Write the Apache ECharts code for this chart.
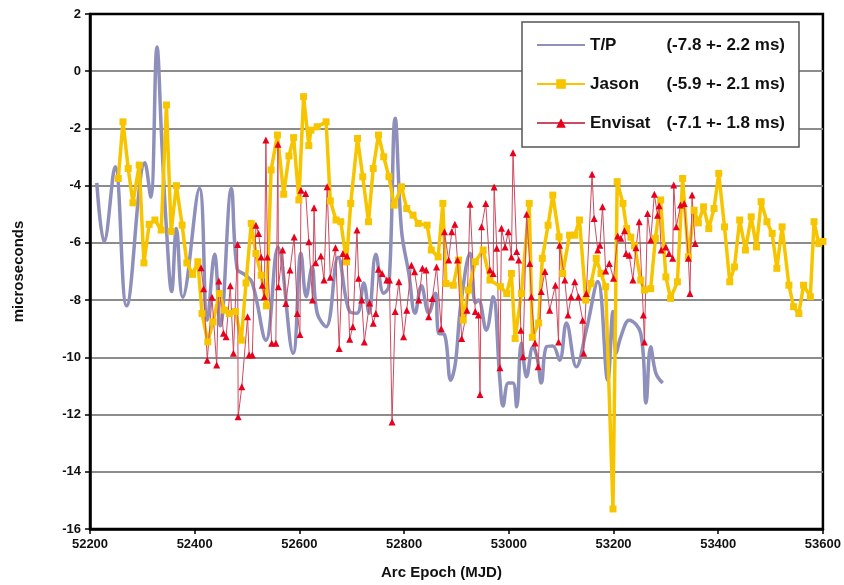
<!DOCTYPE html>
<html><head><meta charset="utf-8">
<script src="https://cdn.jsdelivr.net/npm/echarts@6/dist/echarts.min.js"></script>
<style>html,body{margin:0;padding:0;background:#fff}#c{width:844px;height:585px}</style>
</head><body><div id="c"></div>
<script>
const xTicks = [52200,52400,52600,52800,53000,53200,53400,53600];
const yTicks = [-16,-14,-12,-10,-8,-6,-4,-2,0,2];
const seriesNames = ['T/P','Jason','Envisat'];
const legendStats = ['(-7.8 +- 2.2 ms)','(-5.9 +- 2.1 ms)','(-7.1 +- 1.8 ms)'];

const tpMjd = [52213,52227,52248,52270,52305,52316,52328,52337,52346,52356,52365,52377,52409,52424,52438,52449,52470,52481,52495,52510,52536,52559,52588,52603,52613,52624,52634,52651,52674,52696,52710,52723,52733,52746,52761,52771,52783,52795,52809,52821,52833,52847,52860,52866,52877,52889,52898,52908,52926,52936,52942,52957,52970,52983,52989,52999,53008,53015,53024,53034,53046,53054,53062,53072,53084,53097,53110,53129,53148,53170,53189,53199,53205,53214,53230,53252,53262,53271,53281,53294];
const tpVal = [-3.9,-5.96,-3.34,-8.2,-3.2,-4.4,0.85,-2.4,-5.5,-7.7,-5.5,-7.9,-4.1,-8.7,-6.4,-8.9,-4.1,-6.9,-7.1,-7.4,-9.4,-6.15,-9.86,-6.36,-7.88,-6.84,-8.46,-8.93,-6.5,-8.4,-8.46,-7.4,-8.46,-6.4,-7.76,-7.5,-1.64,-5.55,-7.07,-8.46,-7.5,-8.46,-7.76,-9.16,-9.2,-10.8,-10.2,-8.2,-6.36,-8.1,-8.0,-9.05,-7.88,-10.8,-11.7,-10.9,-10.9,-11.73,-9.5,-10.68,-9.63,-10.0,-10.9,-9.63,-9.6,-10.1,-8.8,-10.33,-9.05,-7.35,-10.8,-8.4,-9.86,-9.28,-8.7,-9.16,-11.6,-9.63,-10.56,-10.9];

const jasonMjd = [52254,52263,52273,52282,52294,52303,52313,52324,52336,52346,52355,52365,52376,52385,52396,52406,52414,52425,52435,52447,52457,52466,52478,52489,52498,52508,52517,52527,52537,52546,52558,52570,52580,52589,52599,52608,52618,52622,52634,52651,52659,52670,52679,52690,52698,52711,52721,52732,52741,52751,52761,52771,52781,52795,52805,52817,52827,52844,52852,52865,52874,52880,52894,52904,52913,52923,52936,52951,52964,52984,52996,53005,53012,53024,53039,53045,53057,53064,53075,53084,53096,53103,53116,53126,53135,53147,53157,53167,53176,53185,53199,53207,53218,53225,53233,53240,53252,53259,53271,53280,53290,53300,53309,53322,53332,53343,53354,53362,53372,53382,53392,53401,53412,53422,53431,53441,53452,53463,53473,53482,53493,53503,53512,53522,53535,53544,53554,53563,53576,53583,53592,53600];
const jasonVal = [-3.75,-1.77,-3.4,-4.6,-3.28,-6.7,-5.35,-5.2,-5.55,-1.18,-5.6,-4.0,-5.38,-6.7,-7.1,-6.66,-8.47,-9.46,-8.76,-7.77,-8.35,-8.47,-8.4,-9.4,-7.4,-5.32,-6.37,-7.13,-8.2,-3.45,-2.23,-4.3,-2.96,-2.32,-4.5,-0.89,-2.6,-2.06,-1.94,-1.77,-4.53,-5.2,-5.26,-6.66,-4.62,-2.35,-3.69,-5.26,-3.4,-2.23,-2.99,-3.69,-4.68,-4.04,-4.8,-5.03,-5.32,-5.38,-6.25,-6.49,-4.62,-7.42,-7.48,-6.6,-8.7,-7.65,-6.66,-6.25,-7.3,-7.53,-7.77,-7.07,-9.34,-7.77,-4.62,-9.3,-8.8,-6.54,-5.38,-4.33,-5.79,-7.07,-5.73,-5.73,-5.2,-8.0,-7.42,-6.54,-7.07,-7.53,-15.3,-3.86,-4.62,-5.5,-5.8,-6.1,-7.3,-7.65,-7.6,-5.84,-4.5,-7.19,-7.94,-7.36,-3.75,-6.49,-4.86,-5.3,-4.74,-5.5,-4.8,-3.57,-5.44,-7.36,-6.84,-5.2,-6.25,-5.09,-6.14,-4.56,-5.26,-5.67,-6.89,-5.44,-7.48,-8.23,-8.47,-7.48,-7.88,-5.26,-6.02,-5.95];

const envMjd = [52412,52417,52424,52433,52442,52446,52455,52460,52468,52474,52482,52483,52490,52501,52504,52510,52517,52522,52527,52529,52533,52536,52539,52547,52555,52559,52560,52568,52574,52582,52590,52596,52601,52603,52612,52618,52625,52628,52631,52641,52647,52653,52659,52669,52676,52683,52691,52696,52702,52710,52713,52719,52724,52734,52741,52746,52751,52758,52767,52772,52777,52783,52790,52799,52805,52814,52820,52828,52835,52842,52847,52854,52862,52871,52877,52885,52891,52897,52902,52910,52920,52926,52936,52942,52945,52948,52956,52964,52970,52972,52977,52983,52986,52993,52999,53005,53008,53015,53019,53023,53027,53034,53040,53043,53050,53056,53062,53069,53078,53089,53095,53097,53107,53113,53119,53126,53133,53141,53143,53148,53159,53163,53170,53174,53179,53185,53192,53200,53208,53214,53221,53224,53230,53237,53243,53249,53257,53259,53265,53271,53278,53284,53287,53291,53300,53306,53313,53315,53320,53328,53335,53343,53346,53350,53356];
const envVal = [-6.87,-7.6,-10.1,-7.9,-10.27,-7.33,-9.16,-9.28,-7.5,-9.86,-6.06,-12.08,-11.03,-8.58,-9.92,-9.92,-5.38,-5.67,-6.49,-7.48,-7.88,-2.4,-6.49,-9.51,-9.51,-2.55,-7.53,-6.25,-8.12,-6.95,-5.79,-8.47,-9.2,-4.16,-4.27,-5.96,-8.0,-4.77,-6.69,-6.46,-7.3,-4.04,-7.2,-6.17,-9.69,-6.37,-6.46,-9.37,-8.93,-5.55,-7.24,-8.0,-9.46,-8.1,-8.81,-8.47,-6.92,-7.07,-7.3,-7.3,-12.26,-8.4,-7.36,-9.28,-8.35,-6.78,-7.01,-8.0,-6.89,-6.95,-8.58,-7.94,-6.84,-9.0,-5.61,-6.6,-5.61,-5.35,-6.6,-9.34,-8.35,-4.65,-8.4,-8.52,-11.3,-5.44,-4.62,-6.95,-7.07,-4.05,-6.19,-10.36,-5.49,-6.14,-5.61,-6.49,-2.85,-6.3,-6.6,-9.05,-9.98,-5.0,-6.72,-7.88,-9.5,-10.33,-7.7,-7.0,-8.35,-7.48,-9.46,-6.08,-7.3,-8.52,-7.88,-7.36,-7.88,-8.7,-9.86,-7.77,-3.6,-5.15,-6.25,-6.08,-4.74,-6.98,-6.72,-7.24,-5.76,-5.84,-5.58,-6.37,-6.43,-7.3,-6.17,-5.26,-8.52,-9.46,-4.97,-5.9,-4.3,-5.03,-4.7,-6.25,-6.14,-6.37,-6.54,-3.98,-5.44,-4.68,-4.62,-6.54,-7.77,-4.33,-6.02];

const pairs = (xs, ys) => xs.map((x, i) => [x, ys[i]]);
const FONT = '"Liberation Sans", Arial, sans-serif';
const chart = echarts.init(document.getElementById('c'), null, {renderer: 'canvas'});
chart.setOption({
  animation: false,
  backgroundColor: '#fff',
  grid: {left: 90, right: 17, top: 14, bottom: 56, show: true, borderColor: '#000', borderWidth: 2.5, backgroundColor: '#fff'},
  legend: {
    data: [
      {name: seriesNames[0], itemStyle: {opacity: 0}},
      {name: seriesNames[1]},
      {name: seriesNames[2]}
    ],
    orient: 'vertical', left: 522, top: 22,
    backgroundColor: '#fff', borderColor: '#555', borderWidth: 1.5,
    padding: [14, 14, 15, 14], itemGap: 21, itemWidth: 48, itemHeight: 12,
    formatter: name => '{n|' + name + '}{s|' + legendStats[seriesNames.indexOf(name)] + '}',
    textStyle: {
      fontFamily: FONT, fontSize: 17, fontWeight: 'bold', color: '#111', lineHeight: 18,
      rich: {
        n: {fontFamily: FONT, fontSize: 17, fontWeight: 'bold', color: '#111', width: 66},
        s: {fontFamily: FONT, fontSize: 17, fontWeight: 'bold', color: '#111', width: 129, align: 'right'}
      }
    }
  },
  xAxis: {
    type: 'value', min: xTicks[0], max: xTicks[xTicks.length - 1], interval: xTicks[1] - xTicks[0],
    name: 'Arc Epoch (MJD)', nameLocation: 'middle', nameGap: 36,
    nameTextStyle: {fontFamily: FONT, fontSize: 15, fontWeight: 'bold', color: '#111', padding: [0, 30, 0, 0]},
    axisLine: {onZero: false, lineStyle: {color: '#000', width: 2.5}},
    axisTick: {show: true, length: 5, lineStyle: {color: '#000', width: 1.5}},
    axisLabel: {fontFamily: FONT, fontSize: 13, fontWeight: 'bold', color: '#111', margin: 9, formatter: v => String(v)},
    splitLine: {show: false}
  },
  yAxis: {
    type: 'value', min: yTicks[0], max: yTicks[yTicks.length - 1], interval: yTicks[1] - yTicks[0],
    name: 'microseconds', nameLocation: 'middle', nameGap: 64, nameRotate: 90,
    nameTextStyle: {fontFamily: FONT, fontSize: 15, fontWeight: 'bold', color: '#111'},
    axisLine: {show: true, onZero: false, lineStyle: {color: '#000', width: 2.5}},
    axisTick: {show: true, length: 5, lineStyle: {color: '#000', width: 1.5}},
    axisLabel: {fontFamily: FONT, fontSize: 13, fontWeight: 'bold', color: '#111', margin: 9},
    splitLine: {show: true, showMinLine: false, showMaxLine: false, lineStyle: {color: '#8c8c8c', width: 2}}
  },
  series: [
    {name: seriesNames[0], type: 'line', data: pairs(tpMjd, tpVal), symbol: 'none', smooth: 0.4,
     lineStyle: {color: '#8e8fba', width: 3.5}, itemStyle: {color: '#8e8fba'}},
    {name: seriesNames[1], type: 'line', data: pairs(jasonMjd, jasonVal), symbol: 'rect', symbolSize: 7, showSymbol: true,
     lineStyle: {color: '#f6c500', width: 3.5}, itemStyle: {color: '#f6c500'}},
    {name: seriesNames[2], type: 'line', data: pairs(envMjd, envVal), symbol: 'triangle', symbolSize: 7, showSymbol: true,
     lineStyle: {color: '#cf4a5e', width: 1}, itemStyle: {color: '#e8001c'}}
  ]
});
</script>
</body></html>
